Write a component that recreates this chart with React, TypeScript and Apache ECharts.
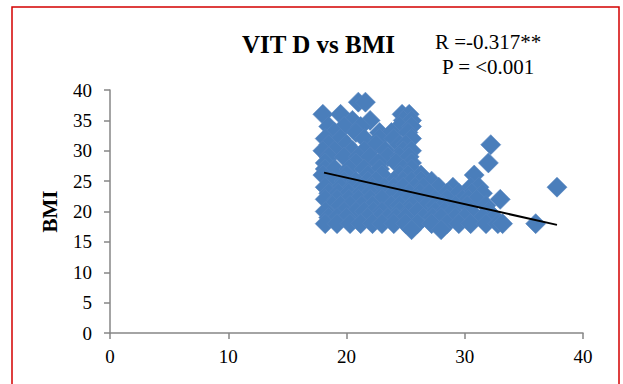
import React, { useEffect, useRef } from "react";
import * as echarts from "echarts";

// BMI levels (y) and the vitamin D values (x) of the points seen at each level
const bmiLevels = [38, 36, 35, 34, 33, 32, 31, 30, 29, 28, 27, 26, 25, 24, 23, 22, 21, 20, 19, 18, 17];
const vitDAt38 = [21, 21.6];
const vitDAt36 = [18, 19.5, 24.7, 25.3];
const vitDAt35 = [20.5, 22, 24.8, 25.5];
const vitDAt34 = [18.5, 19.8, 21.2, 24.5, 25.5];
const vitDAt33 = [19, 20.8, 22.8, 23.8, 25.2];
const vitDAt32 = [18.2, 19.5, 21.5, 22.8, 24, 25.5];
const vitDAt31 = [18.5, 20, 22.5, 24.5, 25, 32.2];
const vitDAt30 = [18, 19, 20.5, 21.5, 23.3, 24.8, 25.5];
const vitDAt29 = [18.5, 19.8, 21, 22, 23.5, 24.5, 25.3];
const vitDAt28 = [18.2, 20.8, 22.7, 24.2, 25.5, 32];
const vitDAt27 = [18.2, 19, 20.2, 21.5, 22.8, 24.8, 25.5];
const vitDAt26 = [18, 20, 21.8, 23, 24.5, 25.2, 26.3, 30.8];
const vitDAt25 = [18.8, 19.8, 20.8, 21.8, 22.5, 24, 24.8, 25.5, 26.3, 27.2];
const vitDAt24 = [18.2, 19.5, 20.5, 21.3, 22.2, 23.2, 24, 24.8, 25.8, 26.5, 27.8, 29, 30.5, 31.2, 37.8];
const vitDAt23 = [18.5, 19.3, 20.2, 21.2, 22, 23.2, 24, 25.3, 26.2, 27, 28.5, 29.5, 30.6, 31.5];
const vitDAt22 = [18.2, 19.2, 20.2, 21, 22, 23, 24.5, 25.3, 26, 27.5, 28.5, 29.8, 30.3, 31, 33];
const vitDAt21 = [18.8, 19.5, 20.3, 21.3, 22.2, 23.8, 24.5, 25.5, 26.8, 27.5, 28.2, 29.2, 30.2, 31.8];
const vitDAt20 = [18.2, 19.8, 20.8, 21.5, 22.3, 23, 24.5, 25.3, 26, 27.5, 28.3, 29, 30.5, 32];
const vitDAt19 = [18.5, 19.2, 20, 21.8, 22.8, 23.5, 24.2, 25, 26.5, 27.3, 28, 29.2, 30, 31.5, 32.5];
const vitDAt18 = [18.2, 19.2, 20.3, 21.2, 22.2, 23, 24, 25, 26, 27.2, 28.5, 29.5, 30.5, 31.8, 32.8, 33.2, 36];
const vitDAt17 = [25.5, 28];
const vitDByLevel = [
  vitDAt38, vitDAt36, vitDAt35, vitDAt34, vitDAt33, vitDAt32, vitDAt31, vitDAt30,
  vitDAt29, vitDAt28, vitDAt27, vitDAt26, vitDAt25, vitDAt24, vitDAt23, vitDAt22,
  vitDAt21, vitDAt20, vitDAt19, vitDAt18, vitDAt17,
];

// linear trend line end points
const trendX = [18.1, 37.8];
const trendY = [26.4, 17.8];

const xTicks = [0, 10, 20, 30, 40];
const yTicks = [0, 5, 10, 15, 20, 25, 30, 35, 40];

const titleText = "VIT D vs BMI";
const rText = "R =-0.317**";
const pText = "P = <0.001";
const yName = "BMI";

export default function App() {
  const ref = useRef<HTMLDivElement>(null);
  useEffect(() => {
    if (!ref.current) return;
    const chart = echarts.init(ref.current, undefined, { renderer: "svg" });
    const points: number[][] = [];
    bmiLevels.forEach((b, i) => {
      vitDByLevel[i].forEach((v) => points.push([v, b]));
    });
    const font = "'Liberation Serif', 'Times New Roman', serif";
    const axisColor = "#868686";
    chart.setOption({
      animation: false,
      backgroundColor: "#ffffff",
      grid: { left: 110, right: 40, top: 90, bottom: 51, containLabel: false },
      xAxis: {
        type: "value",
        min: xTicks[0],
        max: xTicks[xTicks.length - 1],
        interval: xTicks[1] - xTicks[0],
        axisLine: { show: true, lineStyle: { color: axisColor, width: 1.5 } },
        axisTick: { show: true, length: 6, lineStyle: { color: axisColor, width: 1.5 } },
        splitLine: { show: false },
        axisLabel: { color: "#000", fontFamily: font, fontSize: 19, margin: 14 },
      },
      yAxis: {
        type: "value",
        min: yTicks[0],
        max: yTicks[yTicks.length - 1],
        interval: yTicks[1] - yTicks[0],
        name: yName,
        nameLocation: "middle",
        nameGap: 50,
        nameRotate: 90,
        nameTextStyle: { color: "#000", fontFamily: font, fontSize: 21, fontWeight: "bold" },
        axisLine: { show: true, lineStyle: { color: axisColor, width: 1.5 } },
        axisTick: { show: true, length: 6, lineStyle: { color: axisColor, width: 1.5 } },
        splitLine: { show: false },
        axisLabel: { color: "#000", fontFamily: font, fontSize: 19, margin: 18 },
      },
      series: [
        {
          type: "scatter",
          data: points,
          symbol: "diamond",
          symbolSize: 20,
          itemStyle: { color: "#4a7ebb", borderColor: "#5584c0", borderWidth: 0.6, opacity: 1 },
          z: 2,
        },
        {
          type: "line",
          data: [
            [trendX[0], trendY[0]],
            [trendX[1], trendY[1]],
          ],
          symbol: "none",
          lineStyle: { color: "#000", width: 2 },
          z: 3,
        },
      ],
      graphic: [
        {
          type: "rect",
          shape: { x: 12, y: 7, width: 607, height: 420 },
          style: { fill: "none", stroke: "#d40000", lineWidth: 1.5 },
          silent: true,
        },
        {
          type: "text",
          x: 242,
          y: 44,
          style: {
            text: titleText,
            fill: "#000",
            font: `bold 25px ${font}`,
            align: "left",
            verticalAlign: "middle",
          },
        },
        {
          type: "text",
          x: 435,
          y: 42,
          style: {
            text: rText,
            fill: "#000",
            font: `21px ${font}`,
            align: "left",
            verticalAlign: "middle",
          },
        },
        {
          type: "text",
          x: 442,
          y: 67,
          style: {
            text: pText,
            fill: "#000",
            font: `21px ${font}`,
            align: "left",
            verticalAlign: "middle",
          },
        },
      ],
    });
    return () => chart.dispose();
  }, []);
  return (
    <div
      ref={ref}
      style={{ position: "fixed", left: 0, top: 0, width: 623, height: 384 }}
    />
  );
}
